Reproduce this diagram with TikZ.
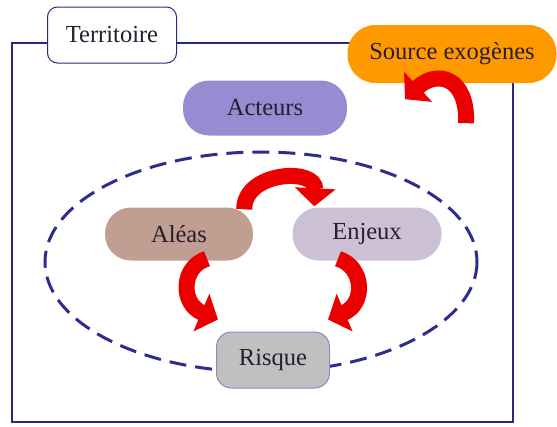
\documentclass[tikz,border=0pt]{standalone}
\usepackage{fontspec}
\setmainfont{Liberation Serif}
\usetikzlibrary{arrows.meta, calc}
\definecolor{frame}{RGB}{40, 40, 130}
\definecolor{ring}{RGB}{45, 45, 140}
\definecolor{orangebox}{RGB}{255, 153, 0}
\definecolor{actbox}{RGB}{150, 140, 210}
\definecolor{alebox}{RGB}{192, 158, 145}
\definecolor{enjbox}{RGB}{203, 192, 212}
\definecolor{risbox}{RGB}{192, 192, 192}
\definecolor{risline}{RGB}{140, 140, 185}
\definecolor{arrowred}{RGB}{235, 0, 0}
\definecolor{ink}{RGB}{40, 30, 45}
\tikzset{
  pill/.style={rounded corners=26pt, minimum height=55pt, inner sep=0pt,
               font=\fontsize{24.5}{28}\selectfont, text=ink},
  bigarrow/.style={draw=arrowred, line width=16pt,
                   -{Triangle[length=18pt, width=40pt]}}
}
\newcommand{\prettycurve}[4]{
  \draw[bigarrow] (#1) .. controls #2 and #3 .. (#4);
}

\begin{document}
\begin{tikzpicture}[x=1pt, y=-1pt]
  % Size
  \useasboundingbox (0, 0) rectangle (557, 426);

  % Frame
  \draw[frame, line width=1.8pt] (12, 43) rectangle (513, 422);
  \draw[ring, line width=3pt, dash pattern=on 17pt off 9pt]
    (261, 262) ellipse [x radius=216, y radius=110];

  % Boxes
  \node[pill, rounded corners=10pt, draw=frame, line width=1pt, fill=white,
        minimum width=129pt, minimum height=56pt] (terr) at (112, 35) {Territoire};
  \node[pill, rounded corners=28pt, fill=orangebox, minimum width=209pt,
        minimum height=58pt] (source) at (452, 54) {Source exogènes};
  \node[pill, fill=actbox, minimum width=164pt] (acteurs) at (265, 108) {Acteurs};
  \node[pill, fill=alebox, minimum width=148pt, minimum height=53pt] (aleas) at (179, 234) {Aléas};
  \node[pill, fill=enjbox, minimum width=149pt, minimum height=53pt] (enjeux) at (367, 234) {Enjeux};
  \node[pill, draw=risline, line width=1pt, fill=risbox, minimum width=113pt,
        minimum height=56pt, rounded corners=15pt] (risque) at (273, 360) {Risque};

  % Arrows
  \coordinate (exotail) at ($(source.south) + (14, 40)$);
  \coordinate (exotip) at ($(source.south) + (-47, 16)$);
  \prettycurve{exotail}{($(exotail) + (2, -46)$)}{($(exotip) + (32, -30)$)}{exotip}

  \prettycurve{$(aleas.north east) + (-9, 2)$}{+(0, -38)}{($(enjeux.north west) + (24, -40)$)}{$(enjeux.north west) + (22, -1)$}
  \prettycurve{$(aleas.south) + (28, -2)$}{+(-26, 8)}{($(risque.north west) + (-36, -28)$)}{$(risque.north west) + (2, -12)$}
  \prettycurve{$(enjeux.south) + (-29, -2)$}{+(26, 8)}{($(risque.north east) + (36, -28)$)}{$(risque.north east) + (-2, -12)$}

\end{tikzpicture}
\end{document}
